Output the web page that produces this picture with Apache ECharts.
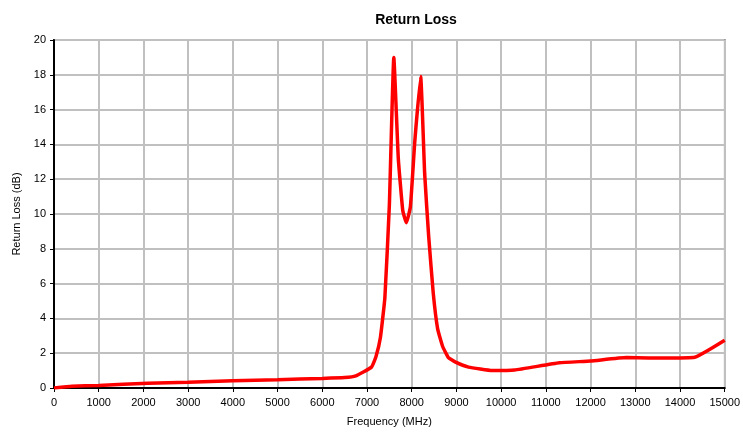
<!DOCTYPE html>
<html><head><meta charset="utf-8">
<script src="https://cdn.jsdelivr.net/npm/echarts@6/dist/echarts.min.js"></script>
<style>html,body{margin:0;padding:0;background:#fff}#c{width:743px;height:438px}</style>
</head><body><div id="c"></div>
<script>
const freqMHz = [0,400,1000,2100,3000,4000,5000,6000,6500,6750,7100,7200,7300,7400,7500,7600,7700,7800,7880,7970,8070,8200,8290,8380,8480,8580,8690,8820,8970,9270,9800,10300,11300,12000,12800,13300,14300,15000];
const returnLoss = [0,0.1,0.15,0.28,0.33,0.42,0.48,0.55,0.6,0.7,1.2,1.8,2.9,5.2,10.5,19.0,13.2,10.2,9.5,10.4,14.2,17.9,12.3,8.7,5.5,3.4,2.4,1.75,1.5,1.2,1.0,1.03,1.45,1.55,1.75,1.72,1.75,2.75];
const seriesData = freqMHz.map((f,i)=>[f,returnLoss[i]]);
const chart = echarts.init(document.getElementById('c'));
const font = 'Liberation Sans, Arial, sans-serif';
chart.setOption({
  animation:false,
  title:{text:'Return Loss',left:411,top:8,textAlign:'center',textStyle:{fontFamily:font,fontSize:14,fontWeight:'bold',color:'#000'}},
  grid:{left:54,right:16,top:40,bottom:50,show:true,borderColor:'#000',borderWidth:1.5},
  xAxis:{type:'value',min:0,max:15000,interval:1000,name:'Frequency (MHz)',nameLocation:'middle',nameGap:28,
    nameTextStyle:{fontFamily:font,fontSize:11,color:'#000'},
    axisLine:{show:true,lineStyle:{color:'#000',width:2}},axisTick:{show:true,length:4,lineStyle:{color:'#000'}},
    axisLabel:{fontFamily:font,fontSize:11,color:'#000',margin:9,formatter:v=>String(v)},
    splitLine:{show:true,lineStyle:{color:'#c0c0c0',width:2}}},
  yAxis:{type:'value',min:0,max:20,interval:2,name:'Return Loss (dB)',nameLocation:'middle',nameGap:32,
    nameTextStyle:{fontFamily:font,fontSize:11,color:'#000'},
    axisLine:{show:true,lineStyle:{color:'#000',width:2}},axisTick:{show:true,length:4,lineStyle:{color:'#000'}},
    axisLabel:{fontFamily:font,fontSize:11,color:'#000',margin:8},
    splitLine:{show:true,lineStyle:{color:'#c0c0c0',width:2}}},
  series:[{type:'line',data:seriesData,smooth:0.12,showSymbol:false,lineStyle:{color:'#ff0000',width:3.5}}]
});
</script></body></html>
